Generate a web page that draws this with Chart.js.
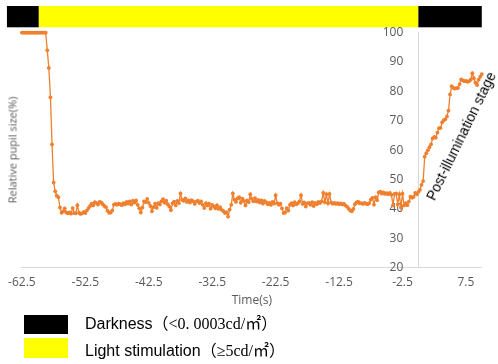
<!DOCTYPE html>
<html><head><meta charset="utf-8">
<script src="https://cdn.jsdelivr.net/npm/chart.js@4"></script>
<style>
html,body{margin:0;padding:0;background:#fff;}
#wrap{position:relative;width:498px;height:364px;overflow:hidden;}
canvas{position:absolute;left:0;top:0;}
.ytitle{position:absolute;left:12px;top:150px;transform:translate(-50%,-50%) rotate(-90deg);font:normal 400 11px "Open Sans";color:#595959;white-space:nowrap;}
.note{position:absolute;left:461px;top:136px;transform:translate(-50%,-50%) rotate(-64deg);font:14px "Liberation Sans",Arial,sans-serif;color:#000;white-space:nowrap;}
.sw{position:absolute;left:24px;width:44px;}
.lg{position:absolute;left:85px;font:16px/19px "Liberation Sans",Arial,sans-serif;color:#000;white-space:nowrap;height:19px;}
.lg span{font:16px/19px "Liberation Serif","Noto Sans CJK SC",serif;}
</style></head>
<body>
<div id="wrap">
<canvas id="c" width="498" height="364"></canvas>
<div class="ytitle">Relative pupil size(%)</div>
<div class="note">Post-illumination stage</div>
<div class="sw" style="top:315px;height:19.3px;background:#000;"></div>
<div class="sw" style="top:338.3px;height:20px;background:#FFFF00;"></div>
<div class="lg" style="top:313.8px;">Darkness<span>（&lt;0. 0003cd/㎡）</span></div>
<div class="lg" style="top:340.5px;">Light stimulation<span>（≥5cd/㎡）</span></div>
</div>
<script>
// Sampling of the recording (seconds)
const SAMPLE_START = -62.5;
const SAMPLE_STEP = 0.25;

// Relative pupil size (%) at each sample
const pupilSize = [
100,100,100,100,100,100,100,100,100,100,100,100,100,100,100,100,
94,88,78,62,49,46,44.5,44,40.5,
38.7,39.2,40.2,38.8,38.5,38.8,38.4,40.3,38.6,38.5,
41.3,38.7,38.3,38.5,39.0,38.6,39.5,40.3,41.0,41.8,
41.2,42.3,42.0,41.5,42.4,42.2,41.6,41.0,40.6,39.4,
38.7,38.8,39.5,41.5,41.7,41.4,41.8,41.6,41.3,42.0,
41.6,42.4,41.8,42.6,41.5,42.8,42.2,42.9,41.4,40.2,
38.8,40.5,42.6,42.3,43.4,42.1,41.0,39.2,40.6,41.8,
40.4,42.0,41.5,42.6,43.3,42.1,42.8,41.6,40.8,39.6,
41.9,42.5,41.2,42.7,42.0,45.3,43.1,42.8,43.6,42.4,
42.9,42.2,43.0,42.6,41.7,42.5,42.8,42.0,42.6,41.4,
40.3,42.0,41.2,41.8,40.1,41.4,40.9,40.2,41.3,40.0,
40.6,39.7,39.3,38.6,38.9,37.4,39.8,41.4,45.3,43.2,
42.4,43.6,44.0,42.1,43.5,42.7,41.2,42.9,42.3,45.0,
43.4,42.6,43.7,42.5,43.1,42.2,42.9,41.8,42.7,42.3,
41.6,42.1,41.4,42.4,41.8,44.7,42.0,41.4,41.8,40.2,
38.6,38.8,40.3,39.4,41.4,42.0,41.2,42.3,41.6,41.9,
42.6,44.7,41.7,42.2,40.8,41.9,42.1,41.4,42.3,41.0,
42.1,41.6,42.4,42.0,42.6,45.5,42.3,45.0,41.9,45.1,
42.2,41.8,42.1,41.7,42.0,41.6,41.9,41.5,41.8,41.2,
40.8,40.1,39.5,39.2,40.0,41.6,42.2,42.5,41.9,42.0,
41.7,42.1,41.8,41.6,42.0,43.2,43.8,41.5,44.0,43.0,
45.6,45.9,45.2,45.6,45.1,45.4,45.0,45.5,44.8,41.3,
45.1,45.3,41.5,45.0,40.5,45.2,41.2,42.0,41.3,42.5,
44.2,43.8,44.1,45.5,45.0,45.8,
46.5,48.2,49.5,57.8,59,60,61,62,64,64.5,
64.2,66,67.5,67.6,69.5,70.2,70.5,71.5,73.5,79,
81.8,81.2,81.0,81.1,81.2,82.5,84.1,83.8,83.5,83.6,
83.3,83.5,84,86.2,84.5,83,82.2,84,85,85.9
];

// X tick labels (s)
const xTicks = [-62.5, -52.5, -42.5, -32.5, -22.5, -12.5, -2.5, 7.5];

// Illumination phases (s)
const phaseStart = [-64.86, -59.83, 0];
const phaseEnd   = [-59.83, 0, 10];
const phaseColor = ['#000000', '#FFFF00', '#000000'];

const points = pupilSize.map((v, i) => ({ x: SAMPLE_START + i * SAMPLE_STEP, y: v }));

const phaseBars = {
  id: 'phaseBars',
  beforeDraw(chart) {
    const { ctx, scales: { x } } = chart;
    ctx.save();
    for (let i = 0; i < phaseStart.length; i++) {
      const x0 = x.getPixelForValue(phaseStart[i]);
      const x1 = x.getPixelForValue(phaseEnd[i]);
      ctx.fillStyle = phaseColor[i];
      ctx.fillRect(x0, 6, x1 - x0, 21.3);
    }
    ctx.restore();
  }
};

const tickFont = { family: 'Open Sans', size: 12 };

new Chart(document.getElementById('c'), {
  type: 'line',
  data: {
    datasets: [{
      data: points,
      borderColor: '#F07F2E',
      backgroundColor: '#F07F2E',
      pointBackgroundColor: '#F07F2E',
      borderWidth: 1.3,
      pointRadius: 1.9,
      pointBorderWidth: 0,
      tension: 0,
      clip: false
    }]
  },
  options: {
    responsive: false,
    animation: false,
    layout: { padding: { left: 20.7, right: 16.2, top: 32.7, bottom: 55.8 } },
    plugins: { legend: { display: false }, tooltip: { enabled: false } },
    scales: {
      x: {
        type: 'linear', min: -62.5, max: 10,
        grid: { display: false, drawTicks: false },
        border: { display: true, color: '#D9D9D9', width: 1 },
        afterBuildTicks: s => { s.ticks = xTicks.map(v => ({ value: v })); },
        ticks: { padding: 8.1, color: '#595959', font: tickFont, maxRotation: 0, autoSkip: false, callback: v => String(v) },
        title: { display: true, text: 'Time(s)', color: '#595959', font: tickFont, padding: { top: -4.5, bottom: 0 } }
      },
      y: {
        type: 'linear', position: { x: 0 }, min: 20, max: 100,
        grid: { display: false, drawTicks: false },
        border: { display: true, color: '#D9D9D9', width: 1 },
        ticks: { stepSize: 10, padding: 0, color: '#595959', font: tickFont, callback: v => String(v) + '\u2003 ' }
      }
    }
  },
  plugins: [phaseBars]
});
</script>
</body></html>
